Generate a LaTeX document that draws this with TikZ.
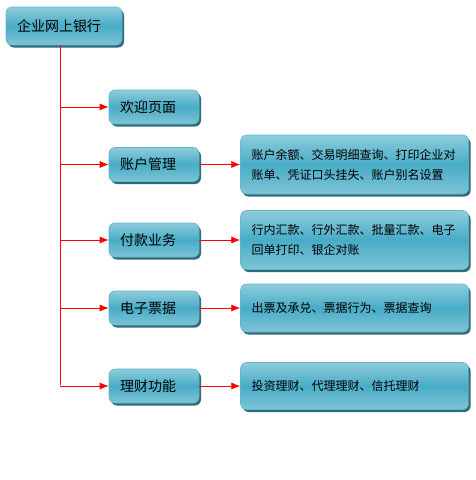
\documentclass[tikz,border=0pt]{standalone}
\usepackage{fontspec}
\newfontfamily\cjk{Noto Sans CJK SC}
\usepackage{tikz}
\usepackage{xcolor}
\usetikzlibrary{shapes.geometric, arrows.meta, positioning, shadows, calc}
\definecolor{tealtop}{HTML}{8ECCDC}
\definecolor{tealmid}{HTML}{48ACC6}
\definecolor{tealbot}{HTML}{80C4D7}
\definecolor{tealedge}{HTML}{62B6CB}
\definecolor{tealshadow}{HTML}{2D6C7D}
\tikzstyle{panel} = [rectangle, rounded corners=6pt, draw=tealedge, line width=0.6pt, top color=tealtop, bottom color=tealbot, middle color=tealmid, drop shadow={shadow xshift=2pt, shadow yshift=-2.5pt, fill=tealshadow, opacity=1}, inner ysep=0pt]
\tikzstyle{menu} = [panel, minimum width=90pt, minimum height=34pt, text width=68pt, inner xsep=11pt, align=left, font=\cjk\fontsize{14pt}{16pt}\selectfont]
\tikzstyle{detail} = [panel, minimum width=228pt, text width=206pt, inner xsep=11pt, align=left, font=\cjk\fontsize{12pt}{20pt}\selectfont]
\tikzstyle{arrow} = [red, line width=0.8pt, -{Latex[length=9pt,width=7pt]}]
\tikzstyle{trunk} = [red, line width=0.8pt]

\begin{document}
\begin{tikzpicture}[x=1pt, y=-1pt, node distance=41pt]
    \useasboundingbox (0,0) rectangle (476,480);
    \node (root) [panel, minimum width=116pt, minimum height=38pt, text width=94pt, inner xsep=11pt, align=left, font=\cjk\fontsize{14pt}{16pt}\selectfont] at (64,26) {企业网上银行};
    \node (welcome) [menu] at (154,107) {欢迎页面};
    \node (account) [menu] at (154,164.5) {账户管理};
    \node (payment) [menu] at (154,240) {付款业务};
    \node (bill) [menu] at (154,308) {电子票据};
    \node (wealth) [menu] at (154,386) {理财功能};
    \node (accountinfo) [detail, minimum height=59pt, right=of account] {账户余额、交易明细查询、打印企业对\\账单、凭证口头挂失、账户别名设置};
    \node (paymentinfo) [detail, minimum height=59pt, right=of payment] {行内汇款、行外汇款、批量汇款、电子\\回单打印、银企对账};
    \node (billinfo) [detail, minimum height=48pt, right=of bill] {出票及承兑、票据行为、票据查询};
    \node (wealthinfo) [detail, minimum height=47pt, right=of wealth] {投资理财、代理理财、信托理财};

    \coordinate (top) at (root.south -| 60,0);
    \coordinate (bot) at (top |- wealth.west);
    \draw [trunk] (top) -- ([yshift=1pt]bot);
    \draw [arrow] (top |- welcome.west) -- (welcome);
    \draw [arrow] (top |- account.west) -- (account);
    \draw [arrow] (top |- payment.west) -- (payment);
    \draw [arrow] (top |- bill.west) -- (bill);
    \draw [arrow] (bot) -- (wealth);
    \draw [arrow] (account) -- (accountinfo);
    \draw [arrow] (payment) -- (paymentinfo);
    \draw [arrow] (bill) -- (billinfo);
    \draw [arrow] (wealth) -- (wealthinfo);
\end{tikzpicture}
\end{document}
